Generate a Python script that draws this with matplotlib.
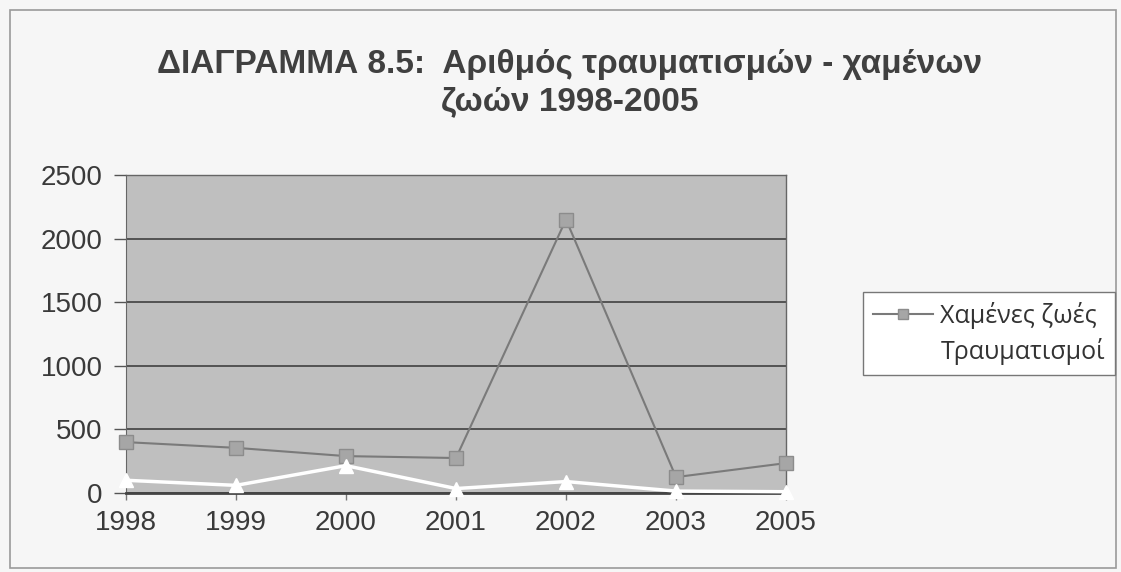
import matplotlib.pyplot as plt
from matplotlib.patches import Rectangle

# data
years = ['1998', '1999', '2000', '2001', '2002', '2003', '2005']
lost_lives = [400, 355, 290, 275, 2150, 125, 235]
injuries = [100, 60, 215, 35, 90, 15, 10]
y_ticks = [0, 500, 1000, 1500, 2000, 2500]

plt.rcParams['font.family'] = ['Liberation Sans', 'DejaVu Sans']

fig = plt.figure(figsize=(11.21, 5.72), dpi=100, facecolor='#f6f6f6')
ax = fig.add_axes([126 / 1121, 1 - 493 / 572, 660 / 1121, 318 / 572])
ax.set_facecolor('#bfbfbf')

# outer frame of the chart
fig.patches.append(Rectangle((10 / 1121, 4 / 572), 1106 / 1121, 558 / 572,
                             transform=fig.transFigure, fill=False,
                             edgecolor='#9a9a9a', linewidth=1.2))

x = range(len(years))
ax.plot(x, lost_lives, color='#7a7a7a', linewidth=1.5, marker='s',
        markersize=10, markerfacecolor='#a6a6a6', markeredgecolor='#8c8c8c',
        label='Χαμένες ζωές', zorder=3, clip_on=False)
ax.plot(x, injuries, color='white', linewidth=2.5, marker='^',
        markersize=10, markerfacecolor='white', markeredgecolor='white',
        label='Τραυματισμοί', zorder=3, clip_on=False)

ax.set_xlim(0, 6)
ax.set_ylim(0, 2500)
ax.set_yticks(y_ticks)
ax.set_xticks(list(x))
ax.set_xticklabels(years)
ax.yaxis.grid(True, color='#4a4a4a', linewidth=1.3)
ax.set_axisbelow(True)

ax.tick_params(axis='y', length=9, width=1, color='#555555', pad=8,
               labelsize=20, labelcolor='#3a3a3a')
ax.tick_params(axis='x', length=5, width=1, color='#777777', pad=7,
               labelsize=20, labelcolor='#3a3a3a')

for side in ['top', 'right']:
    ax.spines[side].set_color('#666666')
    ax.spines[side].set_linewidth(1)
ax.spines['left'].set_color('#666666')
ax.spines['bottom'].set_color('#444444')
ax.spines['bottom'].set_linewidth(2)

fig.text(0.508, 0.888, 'ΔΙΑΓΡΑΜΜΑ 8.5:  Αριθμός τραυματισμών - χαμένων',
         ha='center', va='center', fontsize=24, fontweight='bold',
         color='#404040')
fig.text(0.508, 0.822, 'ζωών 1998-2005',
         ha='center', va='center', fontsize=24, fontweight='bold',
         color='#404040')

leg = fig.legend(loc='upper right', bbox_to_anchor=(1115 / 1121, 1 - 292 / 572),
                 frameon=True, fancybox=False, handlelength=2.4,
                 borderpad=0.4, labelspacing=0.35, handletextpad=0.3,
                 borderaxespad=0, markerscale=0.7,
                 prop={'family': ['Open Sans', 'DejaVu Sans'], 'size': 18})
leg.get_frame().set_edgecolor('#777777')
leg.get_frame().set_facecolor('white')
leg.get_frame().set_alpha(1)
for t in leg.get_texts():
    t.set_color('#333333')

fig.savefig('out.png', dpi=100, facecolor=fig.get_facecolor())
